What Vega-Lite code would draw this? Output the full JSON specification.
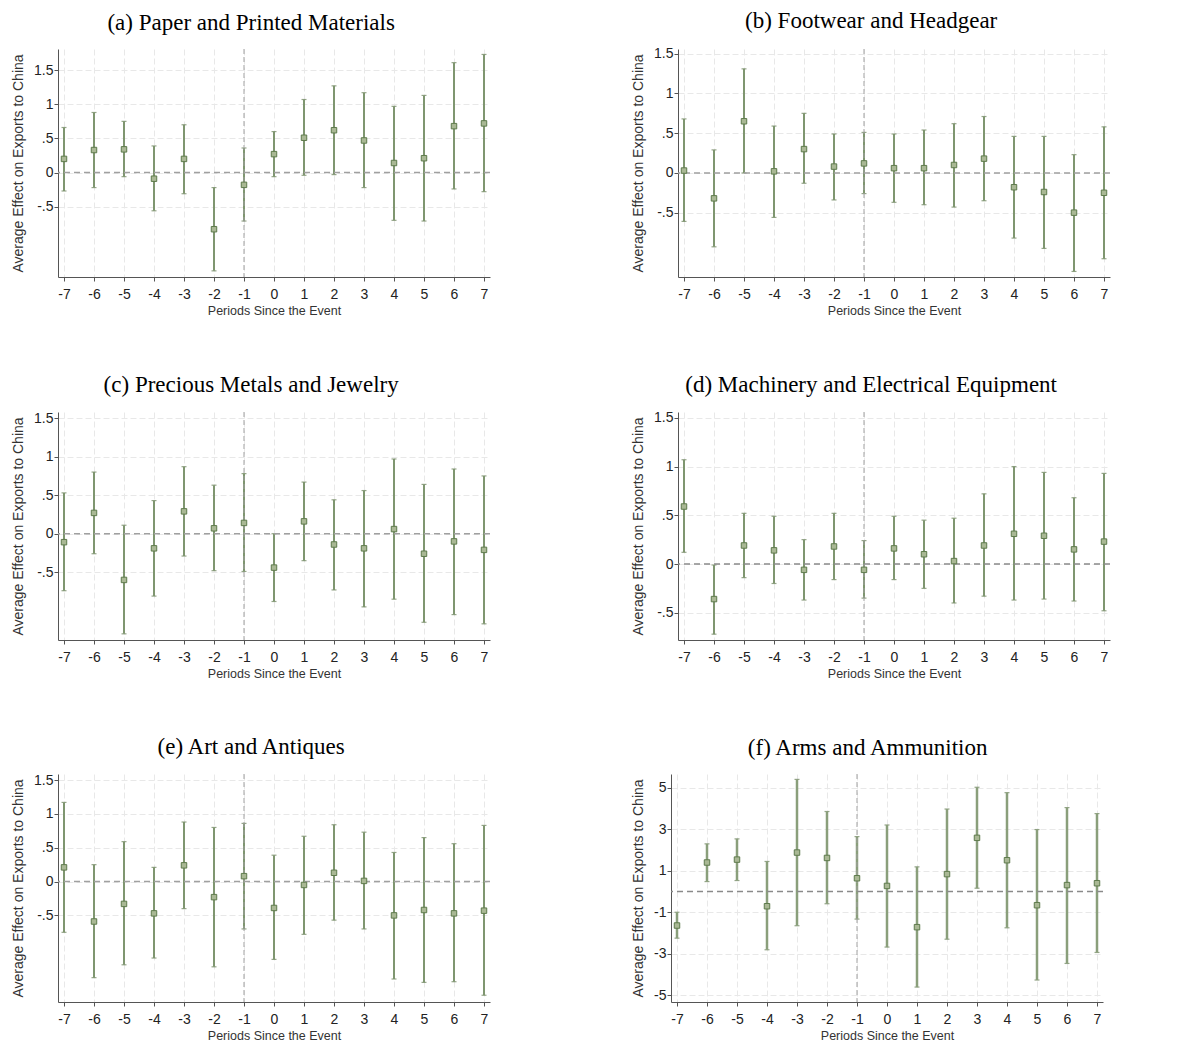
{
  "$schema": "https://vega.github.io/schema/vega-lite/v6.json",
  "background": "white",
  "padding": {"left": 11, "top": 9, "right": 0, "bottom": 0},
  "datasets": {
    "effects": [
      {"panel":"a","period":-7,"estimate":0.20,"lower":-0.27,"upper":0.66},
      {"panel":"a","period":-6,"estimate":0.33,"lower":-0.22,"upper":0.88},
      {"panel":"a","period":-5,"estimate":0.34,"lower":-0.06,"upper":0.75},
      {"panel":"a","period":-4,"estimate":-0.09,"lower":-0.56,"upper":0.39},
      {"panel":"a","period":-3,"estimate":0.20,"lower":-0.31,"upper":0.70},
      {"panel":"a","period":-2,"estimate":-0.83,"lower":-1.44,"upper":-0.22},
      {"panel":"a","period":-1,"estimate":-0.18,"lower":-0.71,"upper":0.36},
      {"panel":"a","period":0,"estimate":0.27,"lower":-0.06,"upper":0.60},
      {"panel":"a","period":1,"estimate":0.51,"lower":-0.04,"upper":1.07},
      {"panel":"a","period":2,"estimate":0.62,"lower":-0.03,"upper":1.27},
      {"panel":"a","period":3,"estimate":0.47,"lower":-0.22,"upper":1.17},
      {"panel":"a","period":4,"estimate":0.14,"lower":-0.70,"upper":0.97},
      {"panel":"a","period":5,"estimate":0.21,"lower":-0.71,"upper":1.13},
      {"panel":"a","period":6,"estimate":0.68,"lower":-0.24,"upper":1.61},
      {"panel":"a","period":7,"estimate":0.72,"lower":-0.28,"upper":1.73},
      {"panel":"b","period":-7,"estimate":0.03,"lower":-0.61,"upper":0.68},
      {"panel":"b","period":-6,"estimate":-0.32,"lower":-0.93,"upper":0.29},
      {"panel":"b","period":-5,"estimate":0.65,"lower":0.00,"upper":1.31},
      {"panel":"b","period":-4,"estimate":0.02,"lower":-0.56,"upper":0.59},
      {"panel":"b","period":-3,"estimate":0.30,"lower":-0.13,"upper":0.75},
      {"panel":"b","period":-2,"estimate":0.08,"lower":-0.34,"upper":0.49},
      {"panel":"b","period":-1,"estimate":0.12,"lower":-0.26,"upper":0.51},
      {"panel":"b","period":0,"estimate":0.06,"lower":-0.37,"upper":0.49},
      {"panel":"b","period":1,"estimate":0.06,"lower":-0.40,"upper":0.54},
      {"panel":"b","period":2,"estimate":0.10,"lower":-0.43,"upper":0.62},
      {"panel":"b","period":3,"estimate":0.18,"lower":-0.35,"upper":0.71},
      {"panel":"b","period":4,"estimate":-0.18,"lower":-0.82,"upper":0.46},
      {"panel":"b","period":5,"estimate":-0.24,"lower":-0.95,"upper":0.46},
      {"panel":"b","period":6,"estimate":-0.50,"lower":-1.24,"upper":0.23},
      {"panel":"b","period":7,"estimate":-0.25,"lower":-1.08,"upper":0.58},
      {"panel":"c","period":-7,"estimate":-0.11,"lower":-0.74,"upper":0.53},
      {"panel":"c","period":-6,"estimate":0.27,"lower":-0.26,"upper":0.80},
      {"panel":"c","period":-5,"estimate":-0.60,"lower":-1.30,"upper":0.11},
      {"panel":"c","period":-4,"estimate":-0.19,"lower":-0.81,"upper":0.43},
      {"panel":"c","period":-3,"estimate":0.29,"lower":-0.29,"upper":0.87},
      {"panel":"c","period":-2,"estimate":0.07,"lower":-0.48,"upper":0.63},
      {"panel":"c","period":-1,"estimate":0.14,"lower":-0.49,"upper":0.78},
      {"panel":"c","period":0,"estimate":-0.44,"lower":-0.88,"upper":0.00},
      {"panel":"c","period":1,"estimate":0.16,"lower":-0.35,"upper":0.67},
      {"panel":"c","period":2,"estimate":-0.14,"lower":-0.73,"upper":0.44},
      {"panel":"c","period":3,"estimate":-0.19,"lower":-0.95,"upper":0.56},
      {"panel":"c","period":4,"estimate":0.06,"lower":-0.85,"upper":0.97},
      {"panel":"c","period":5,"estimate":-0.26,"lower":-1.15,"upper":0.64},
      {"panel":"c","period":6,"estimate":-0.10,"lower":-1.05,"upper":0.84},
      {"panel":"c","period":7,"estimate":-0.21,"lower":-1.17,"upper":0.75},
      {"panel":"d","period":-7,"estimate":0.59,"lower":0.12,"upper":1.07},
      {"panel":"d","period":-6,"estimate":-0.36,"lower":-0.72,"upper":-0.01},
      {"panel":"d","period":-5,"estimate":0.19,"lower":-0.14,"upper":0.52},
      {"panel":"d","period":-4,"estimate":0.14,"lower":-0.20,"upper":0.49},
      {"panel":"d","period":-3,"estimate":-0.06,"lower":-0.37,"upper":0.25},
      {"panel":"d","period":-2,"estimate":0.18,"lower":-0.16,"upper":0.52},
      {"panel":"d","period":-1,"estimate":-0.06,"lower":-0.35,"upper":0.24},
      {"panel":"d","period":0,"estimate":0.16,"lower":-0.16,"upper":0.49},
      {"panel":"d","period":1,"estimate":0.10,"lower":-0.25,"upper":0.45},
      {"panel":"d","period":2,"estimate":0.03,"lower":-0.40,"upper":0.47},
      {"panel":"d","period":3,"estimate":0.19,"lower":-0.33,"upper":0.72},
      {"panel":"d","period":4,"estimate":0.31,"lower":-0.37,"upper":1.00},
      {"panel":"d","period":5,"estimate":0.29,"lower":-0.36,"upper":0.94},
      {"panel":"d","period":6,"estimate":0.15,"lower":-0.38,"upper":0.68},
      {"panel":"d","period":7,"estimate":0.23,"lower":-0.48,"upper":0.93},
      {"panel":"e","period":-7,"estimate":0.21,"lower":-0.75,"upper":1.17},
      {"panel":"e","period":-6,"estimate":-0.59,"lower":-1.42,"upper":0.25},
      {"panel":"e","period":-5,"estimate":-0.33,"lower":-1.23,"upper":0.59},
      {"panel":"e","period":-4,"estimate":-0.47,"lower":-1.13,"upper":0.21},
      {"panel":"e","period":-3,"estimate":0.24,"lower":-0.40,"upper":0.88},
      {"panel":"e","period":-2,"estimate":-0.23,"lower":-1.26,"upper":0.80},
      {"panel":"e","period":-1,"estimate":0.08,"lower":-0.70,"upper":0.86},
      {"panel":"e","period":0,"estimate":-0.39,"lower":-1.15,"upper":0.39},
      {"panel":"e","period":1,"estimate":-0.05,"lower":-0.78,"upper":0.67},
      {"panel":"e","period":2,"estimate":0.13,"lower":-0.57,"upper":0.84},
      {"panel":"e","period":3,"estimate":0.01,"lower":-0.70,"upper":0.73},
      {"panel":"e","period":4,"estimate":-0.50,"lower":-1.44,"upper":0.43},
      {"panel":"e","period":5,"estimate":-0.42,"lower":-1.49,"upper":0.65},
      {"panel":"e","period":6,"estimate":-0.47,"lower":-1.48,"upper":0.56},
      {"panel":"e","period":7,"estimate":-0.43,"lower":-1.68,"upper":0.83},
      {"panel":"f","period":-7,"estimate":-1.64,"lower":-2.25,"upper":-1.00},
      {"panel":"f","period":-6,"estimate":1.40,"lower":0.48,"upper":2.30},
      {"panel":"f","period":-5,"estimate":1.54,"lower":0.53,"upper":2.54},
      {"panel":"f","period":-4,"estimate":-0.71,"lower":-2.81,"upper":1.45},
      {"panel":"f","period":-3,"estimate":1.88,"lower":-1.65,"upper":5.41},
      {"panel":"f","period":-2,"estimate":1.62,"lower":-0.59,"upper":3.86},
      {"panel":"f","period":-1,"estimate":0.64,"lower":-1.33,"upper":2.65},
      {"panel":"f","period":0,"estimate":0.27,"lower":-2.68,"upper":3.21},
      {"panel":"f","period":1,"estimate":-1.72,"lower":-4.61,"upper":1.19},
      {"panel":"f","period":2,"estimate":0.84,"lower":-2.30,"upper":3.98},
      {"panel":"f","period":3,"estimate":2.59,"lower":0.16,"upper":5.03},
      {"panel":"f","period":4,"estimate":1.51,"lower":-1.75,"upper":4.77},
      {"panel":"f","period":5,"estimate":-0.66,"lower":-4.27,"upper":2.99},
      {"panel":"f","period":6,"estimate":0.31,"lower":-3.47,"upper":4.05},
      {"panel":"f","period":7,"estimate":0.40,"lower":-2.94,"upper":3.76}
    ]
  },
  "vconcat": [
    {
      "spacing": 140,
      "hconcat": [
        {
          "width": 432, "height": 228,
          "title": "(a) Paper and Printed Materials",
          "data": {"name": "effects"},
          "transform": [{"filter": "datum.panel == 'a'"}],
          "layer": [
            {"mark": {"type": "errorbar", "color": "#7f9670", "thickness": 2, "ticks": {"size": 5, "thickness": 1.2, "color": "#6a8058"}},
             "encoding": {
               "x": {"field": "period", "type": "quantitative", "scale": {"domain": [-7.2, 7.2], "nice": false, "zero": false}, "axis": {"values": [-7,-6,-5,-4,-3,-2,-1,0,1,2,3,4,5,6,7], "tickCount": 30, "title": "Periods Since the Event", "labelExpr": "toString(datum.value)", "labelOverlap": false, "labelFlush": false}},
               "y": {"field": "lower", "type": "quantitative", "scale": {"domain": [-1.53, 1.81], "nice": false, "zero": false}, "axis": {"values": [-0.5, 0, 0.5, 1, 1.5], "tickCount": 30, "title": "Average Effect on Exports to China", "labelExpr": "datum.value == 0.5 ? '.5' : datum.value == -0.5 ? '-.5' : toString(datum.value)"}},
               "y2": {"field": "upper"}
             }},
            {"data": {"values": [{}]}, "mark": {"type": "rule", "stroke": "#a0a0a0", "strokeWidth": 1.5, "strokeDash": [6, 4]}, "encoding": {"y": {"datum": 0}}},
            {"data": {"values": [{}]}, "mark": {"type": "rule", "stroke": "#a0a0a0", "strokeWidth": 1, "strokeDash": [5, 3]}, "encoding": {"x": {"datum": -1}}},
            {"mark": {"type": "square", "size": 30, "filled": true, "fill": "#a9b894", "stroke": "#5e7a4c", "strokeWidth": 1, "opacity": 1},
             "encoding": {"x": {"field": "period", "type": "quantitative"}, "y": {"field": "estimate", "type": "quantitative"}}}
          ]
        },
        {
          "width": 432, "height": 228,
          "title": "(b) Footwear and Headgear",
          "data": {"name": "effects"},
          "transform": [{"filter": "datum.panel == 'b'"}],
          "layer": [
            {"mark": {"type": "errorbar", "color": "#7f9670", "thickness": 2, "ticks": {"size": 5, "thickness": 1.2, "color": "#6a8058"}},
             "encoding": {
               "x": {"field": "period", "type": "quantitative", "scale": {"domain": [-7.2, 7.2], "nice": false, "zero": false}, "axis": {"values": [-7,-6,-5,-4,-3,-2,-1,0,1,2,3,4,5,6,7], "tickCount": 30, "title": "Periods Since the Event", "labelExpr": "toString(datum.value)", "labelOverlap": false, "labelFlush": false}},
               "y": {"field": "lower", "type": "quantitative", "scale": {"domain": [-1.31, 1.56], "nice": false, "zero": false}, "axis": {"values": [-0.5, 0, 0.5, 1, 1.5], "tickCount": 30, "title": "Average Effect on Exports to China", "labelExpr": "datum.value == 0.5 ? '.5' : datum.value == -0.5 ? '-.5' : toString(datum.value)"}},
               "y2": {"field": "upper"}
             }},
            {"data": {"values": [{}]}, "mark": {"type": "rule", "stroke": "#a0a0a0", "strokeWidth": 1.5, "strokeDash": [6, 4]}, "encoding": {"y": {"datum": 0}}},
            {"data": {"values": [{}]}, "mark": {"type": "rule", "stroke": "#a0a0a0", "strokeWidth": 1, "strokeDash": [5, 3]}, "encoding": {"x": {"datum": -1}}},
            {"mark": {"type": "square", "size": 30, "filled": true, "fill": "#a9b894", "stroke": "#5e7a4c", "strokeWidth": 1, "opacity": 1},
             "encoding": {"x": {"field": "period", "type": "quantitative"}, "y": {"field": "estimate", "type": "quantitative"}}}
          ]
        }
      ]
    },
    {
      "spacing": 140,
      "hconcat": [
        {
          "width": 432, "height": 228,
          "title": "(c) Precious Metals and Jewelry",
          "data": {"name": "effects"},
          "transform": [{"filter": "datum.panel == 'c'"}],
          "layer": [
            {"mark": {"type": "errorbar", "color": "#7f9670", "thickness": 2, "ticks": {"size": 5, "thickness": 1.2, "color": "#6a8058"}},
             "encoding": {
               "x": {"field": "period", "type": "quantitative", "scale": {"domain": [-7.2, 7.2], "nice": false, "zero": false}, "axis": {"values": [-7,-6,-5,-4,-3,-2,-1,0,1,2,3,4,5,6,7], "tickCount": 30, "title": "Periods Since the Event", "labelExpr": "toString(datum.value)", "labelOverlap": false, "labelFlush": false}},
               "y": {"field": "lower", "type": "quantitative", "scale": {"domain": [-1.38, 1.58], "nice": false, "zero": false}, "axis": {"values": [-0.5, 0, 0.5, 1, 1.5], "tickCount": 30, "title": "Average Effect on Exports to China", "labelExpr": "datum.value == 0.5 ? '.5' : datum.value == -0.5 ? '-.5' : toString(datum.value)"}},
               "y2": {"field": "upper"}
             }},
            {"data": {"values": [{}]}, "mark": {"type": "rule", "stroke": "#a0a0a0", "strokeWidth": 1.5, "strokeDash": [6, 4]}, "encoding": {"y": {"datum": 0}}},
            {"data": {"values": [{}]}, "mark": {"type": "rule", "stroke": "#a0a0a0", "strokeWidth": 1, "strokeDash": [5, 3]}, "encoding": {"x": {"datum": -1}}},
            {"mark": {"type": "square", "size": 30, "filled": true, "fill": "#a9b894", "stroke": "#5e7a4c", "strokeWidth": 1, "opacity": 1},
             "encoding": {"x": {"field": "period", "type": "quantitative"}, "y": {"field": "estimate", "type": "quantitative"}}}
          ]
        },
        {
          "width": 432, "height": 228,
          "title": "(d) Machinery and Electrical Equipment",
          "data": {"name": "effects"},
          "transform": [{"filter": "datum.panel == 'd'"}],
          "layer": [
            {"mark": {"type": "errorbar", "color": "#7f9670", "thickness": 2, "ticks": {"size": 5, "thickness": 1.2, "color": "#6a8058"}},
             "encoding": {
               "x": {"field": "period", "type": "quantitative", "scale": {"domain": [-7.2, 7.2], "nice": false, "zero": false}, "axis": {"values": [-7,-6,-5,-4,-3,-2,-1,0,1,2,3,4,5,6,7], "tickCount": 30, "title": "Periods Since the Event", "labelExpr": "toString(datum.value)", "labelOverlap": false, "labelFlush": false}},
               "y": {"field": "lower", "type": "quantitative", "scale": {"domain": [-0.78, 1.56], "nice": false, "zero": false}, "axis": {"values": [-0.5, 0, 0.5, 1, 1.5], "tickCount": 30, "title": "Average Effect on Exports to China", "labelExpr": "datum.value == 0.5 ? '.5' : datum.value == -0.5 ? '-.5' : toString(datum.value)"}},
               "y2": {"field": "upper"}
             }},
            {"data": {"values": [{}]}, "mark": {"type": "rule", "stroke": "#8a8a8a", "strokeWidth": 1.5, "strokeDash": [6, 4]}, "encoding": {"y": {"datum": 0}}},
            {"data": {"values": [{}]}, "mark": {"type": "rule", "stroke": "#a0a0a0", "strokeWidth": 1, "strokeDash": [5, 3]}, "encoding": {"x": {"datum": -1}}},
            {"mark": {"type": "square", "size": 30, "filled": true, "fill": "#a9b894", "stroke": "#5e7a4c", "strokeWidth": 1, "opacity": 1},
             "encoding": {"x": {"field": "period", "type": "quantitative"}, "y": {"field": "estimate", "type": "quantitative"}}}
          ]
        }
      ]
    },
    {
      "spacing": 140,
      "hconcat": [
        {
          "width": 432, "height": 228,
          "title": "(e) Art and Antiques",
          "data": {"name": "effects"},
          "transform": [{"filter": "datum.panel == 'e'"}],
          "layer": [
            {"mark": {"type": "errorbar", "color": "#7f9670", "thickness": 2, "ticks": {"size": 5, "thickness": 1.2, "color": "#6a8058"}},
             "encoding": {
               "x": {"field": "period", "type": "quantitative", "scale": {"domain": [-7.2, 7.2], "nice": false, "zero": false}, "axis": {"values": [-7,-6,-5,-4,-3,-2,-1,0,1,2,3,4,5,6,7], "tickCount": 30, "title": "Periods Since the Event", "labelExpr": "toString(datum.value)", "labelOverlap": false, "labelFlush": false}},
               "y": {"field": "lower", "type": "quantitative", "scale": {"domain": [-1.78, 1.59], "nice": false, "zero": false}, "axis": {"values": [-0.5, 0, 0.5, 1, 1.5], "tickCount": 30, "title": "Average Effect on Exports to China", "labelExpr": "datum.value == 0.5 ? '.5' : datum.value == -0.5 ? '-.5' : toString(datum.value)"}},
               "y2": {"field": "upper"}
             }},
            {"data": {"values": [{}]}, "mark": {"type": "rule", "stroke": "#a0a0a0", "strokeWidth": 1.5, "strokeDash": [6, 4]}, "encoding": {"y": {"datum": 0}}},
            {"data": {"values": [{}]}, "mark": {"type": "rule", "stroke": "#a0a0a0", "strokeWidth": 1, "strokeDash": [5, 3]}, "encoding": {"x": {"datum": -1}}},
            {"mark": {"type": "square", "size": 30, "filled": true, "fill": "#a9b894", "stroke": "#5e7a4c", "strokeWidth": 1, "opacity": 1},
             "encoding": {"x": {"field": "period", "type": "quantitative"}, "y": {"field": "estimate", "type": "quantitative"}}}
          ]
        },
        {
          "width": 432, "height": 228,
          "title": "(f) Arms and Ammunition",
          "data": {"name": "effects"},
          "transform": [{"filter": "datum.panel == 'f'"}],
          "layer": [
            {"mark": {"type": "errorbar", "color": "#8a9f7b", "thickness": 2.5, "ticks": {"size": 5, "thickness": 1.2, "color": "#6a8058"}},
             "encoding": {
               "x": {"field": "period", "type": "quantitative", "scale": {"domain": [-7.2, 7.2], "nice": false, "zero": false}, "axis": {"values": [-7,-6,-5,-4,-3,-2,-1,0,1,2,3,4,5,6,7], "tickCount": 30, "title": "Periods Since the Event", "labelExpr": "toString(datum.value)", "labelOverlap": false, "labelFlush": false}},
               "y": {"field": "lower", "type": "quantitative", "scale": {"domain": [-5.33, 5.67], "nice": false, "zero": false}, "axis": {"values": [-5, -3, -1, 1, 3, 5], "tickCount": 30, "title": "Average Effect on Exports to China", "labelExpr": "toString(datum.value)"}},
               "y2": {"field": "upper"}
             }},
            {"data": {"values": [{}]}, "mark": {"type": "rule", "stroke": "#8a8a8a", "strokeWidth": 1.5, "strokeDash": [6, 4]}, "encoding": {"y": {"datum": 0}}},
            {"data": {"values": [{}]}, "mark": {"type": "rule", "stroke": "#a0a0a0", "strokeWidth": 1, "strokeDash": [5, 3]}, "encoding": {"x": {"datum": -1}}},
            {"mark": {"type": "square", "size": 30, "filled": true, "fill": "#a9b894", "stroke": "#5e7a4c", "strokeWidth": 1, "opacity": 1},
             "encoding": {"x": {"field": "period", "type": "quantitative"}, "y": {"field": "estimate", "type": "quantitative"}}}
          ]
        }
      ]
    }
  ],
  "spacing": 56,
  "config": {
    "view": {"stroke": null},
    "font": "Liberation Sans",
    "axis": {
      "domainColor": "#555555", "tickColor": "#555555", "labelColor": "#222222",
      "labelFont": "Liberation Sans", "labelFontSize": 14, "labelOverlap": false,
      "titleFont": "Liberation Sans", "titleFontSize": 12.5, "titleFontWeight": "normal", "titleColor": "#333333",
      "grid": true, "gridColor": "#e8e8e8", "gridDash": [6, 3], "tickSize": 4
    },
    "axisX": {"labelPadding": 6, "titlePadding": 3},
    "axisY": {"labelPadding": 1, "titlePadding": 8, "titleFontSize": 14},
    "title": {"font": "Liberation Serif", "fontSize": 23, "fontWeight": "normal", "color": "#000000", "anchor": "middle", "frame": "bounds", "offset": 14}
  }
}
